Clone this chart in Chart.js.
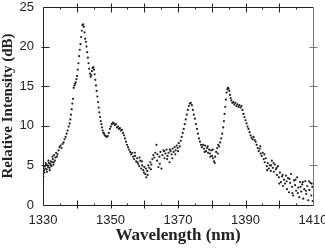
<!DOCTYPE html>
<html>
<head>
<meta charset="utf-8">
<script src="https://cdn.jsdelivr.net/npm/chart.js@4/dist/chart.umd.min.js"></script>
<style>
  html, body { margin: 0; padding: 0; background: #fff; }
  #wrap { width: 325px; height: 250px; position: relative; }
</style>
</head>
<body>
<div id="wrap"><canvas id="chart"></canvas></div>
<script>
// values
const wavelengthNm = [
  1330.1, 1330.3, 1330.5, 1330.7, 1330.9, 1331.1, 1331.3, 1331.5, 1331.7, 1331.9,
  1332.1, 1332.3, 1332.5, 1332.7, 1332.9, 1333.1, 1333.3, 1333.5, 1333.7, 1333.9,
  1334.1, 1334.3, 1334.6, 1334.9, 1335.2, 1335.5, 1335.8, 1336.1, 1336.4, 1336.7,
  1337.0, 1337.3, 1337.6, 1337.9, 1338.1, 1338.3, 1338.5, 1338.7, 1338.9, 1339.1,
  1339.3, 1339.5, 1339.7, 1339.9, 1340.1, 1340.3, 1340.5, 1340.7, 1340.9, 1341.1,
  1341.3, 1341.5, 1341.7, 1341.9, 1342.1, 1342.3, 1342.5, 1342.7, 1342.9, 1343.1,
  1343.3, 1343.5, 1343.7, 1343.9, 1344.1, 1344.3, 1344.5, 1344.7, 1344.9, 1345.1,
  1345.3, 1345.5, 1345.7, 1345.9, 1346.1, 1346.3, 1346.5, 1346.7, 1346.9, 1347.1,
  1347.3, 1347.5, 1347.7, 1347.9, 1348.1, 1348.3, 1348.6, 1348.9, 1349.2, 1349.5,
  1349.8, 1350.1, 1350.4, 1350.7, 1351.0, 1351.3, 1351.6, 1351.9, 1352.2, 1352.5,
  1352.8, 1353.1, 1353.4, 1353.7, 1354.0, 1354.3, 1354.6, 1354.9, 1355.2, 1355.5,
  1355.8, 1356.1, 1356.4, 1356.7, 1357.0, 1357.3, 1357.6, 1357.9, 1358.2, 1358.5,
  1358.8, 1359.1, 1359.4, 1359.7, 1360.0, 1360.3, 1360.6, 1360.9, 1361.2, 1361.5,
  1361.8, 1362.1, 1362.4, 1362.7, 1363.0, 1363.3, 1363.6, 1363.9, 1364.2, 1364.5,
  1364.8, 1365.1, 1365.4, 1365.7, 1366.0, 1366.3, 1366.6, 1366.9, 1367.2, 1367.5,
  1367.8, 1368.1, 1368.4, 1368.7, 1369.0, 1369.3, 1369.6, 1369.9, 1370.2, 1370.5,
  1370.8, 1371.1, 1371.4, 1371.7, 1372.0, 1372.3, 1372.6, 1372.9, 1373.2, 1373.5,
  1373.8, 1374.1, 1374.4, 1374.7, 1375.0, 1375.3, 1375.6, 1375.9, 1376.2, 1376.5,
  1376.8, 1377.1, 1377.4, 1377.7, 1378.0, 1378.3, 1378.6, 1378.9, 1379.2, 1379.5,
  1379.8, 1380.1, 1380.4, 1380.7, 1381.0, 1381.3, 1381.6, 1381.9, 1382.2, 1382.5,
  1382.8, 1383.1, 1383.4, 1383.6, 1383.8, 1384.0, 1384.2, 1384.4, 1384.6, 1384.8,
  1385.0, 1385.2, 1385.4, 1385.6, 1385.8, 1386.1, 1386.4, 1386.7, 1387.0, 1387.3,
  1387.6, 1387.9, 1388.2, 1388.5, 1388.8, 1389.1, 1389.4, 1389.7, 1390.0, 1390.3,
  1390.6, 1390.9, 1391.2, 1391.5, 1391.8, 1392.1, 1392.4, 1392.7, 1393.0, 1393.3,
  1393.6, 1393.9, 1394.2, 1394.5, 1394.8, 1395.1, 1395.4, 1395.7, 1396.0, 1396.3,
  1396.6, 1396.9, 1397.2, 1397.5, 1397.8, 1398.1, 1398.4, 1398.7, 1399.0, 1399.3,
  1399.6, 1399.9, 1400.2, 1400.5, 1400.8, 1401.1, 1401.4, 1401.7, 1402.0, 1402.3,
  1402.6, 1402.9, 1403.2, 1403.5, 1403.8, 1404.1, 1404.4, 1404.7, 1405.0, 1405.3,
  1405.6, 1405.9, 1406.2, 1406.5, 1406.8, 1407.1, 1407.4, 1407.7, 1408.0, 1408.3,
  1408.6, 1408.9, 1409.2, 1409.5, 1409.8
];
const intensityDb = [
  3.6, 4.4, 4.9, 4.6, 5.1, 4.5, 5.0, 4.8, 5.3, 4.7,
  5.2, 5.5, 4.9, 5.4, 5.8, 5.1, 6.3, 5.6, 6.0, 6.6,
  6.1, 6.4, 6.9, 7.3, 7.5, 7.2, 7.7, 7.9, 8.3, 8.6,
  9.0, 9.4, 9.9, 10.3, 10.8, 11.4, 12.1, 12.8, 13.4, 14.8,
  15.1, 15.3, 15.5, 15.9, 16.3, 17.1, 17.9, 18.8, 19.6, 20.3,
  21.2, 22.0, 22.7, 22.8, 22.5, 21.8, 21.0, 20.6, 20.0, 19.3,
  18.6, 17.9, 17.2, 16.6, 16.2, 16.4, 16.9, 17.3, 17.4, 17.1,
  16.5, 15.8, 15.1, 14.4, 13.7, 13.0, 12.3, 11.7, 11.1, 10.6,
  10.2, 9.8, 9.4, 9.1, 9.0, 8.8, 8.7, 8.6, 8.7, 9.1,
  9.6, 9.9, 10.2, 10.4, 10.3, 10.1, 10.2, 9.8, 9.9, 9.6,
  9.7, 9.4, 9.5, 9.1, 8.8, 8.4, 8.0, 7.6, 7.3, 7.0,
  6.7, 6.4, 6.6, 6.1, 5.8, 6.2, 5.5, 5.9, 5.2, 4.9,
  5.6, 4.6, 5.0, 4.4, 4.8, 3.9, 3.5, 4.3, 5.0, 4.7,
  5.4, 5.1, 5.8, 6.3, 6.0, 6.6, 7.6, 6.4, 4.8, 6.1,
  6.7, 4.6, 6.3, 6.9, 5.9, 6.5, 7.0, 6.2, 6.6, 5.4,
  6.8, 6.4, 7.1, 6.7, 7.3, 6.9, 7.5, 7.2, 7.8, 7.4,
  8.1, 8.6, 9.1, 9.6, 10.2, 10.8, 11.4, 12.0, 12.5, 12.8,
  12.9, 12.6, 12.0, 11.4, 10.9, 10.2, 9.6, 9.0, 8.4, 8.0,
  7.6, 7.3, 7.6, 7.1, 7.5, 6.8, 7.2, 6.6, 7.0, 6.5,
  6.9, 6.2, 5.9, 5.5, 6.1, 6.7, 7.2, 7.6, 7.4, 7.9,
  8.4, 9.0, 9.8, 10.6, 11.5, 12.4, 13.3, 14.2, 14.6, 14.8,
  14.7, 14.4, 13.9, 13.5, 13.2, 12.9, 13.0, 12.7, 12.9, 12.5,
  12.7, 12.4, 12.6, 12.3, 12.5, 12.0, 11.5, 11.1, 10.7, 10.3,
  9.9, 9.6, 9.2, 8.8, 8.5, 8.3, 8.6, 8.2, 8.0, 7.6,
  7.2, 6.8, 7.1, 6.5, 6.2, 6.6, 5.8, 5.4, 5.9, 4.9,
  5.3, 4.6, 5.0, 4.3, 5.6, 4.7, 4.2, 5.1, 4.5, 3.8,
  4.9, 3.5, 4.1, 2.9, 3.6, 2.4, 3.2, 2.7, 3.7, 2.0,
  3.4, 1.6, 2.8, 3.9, 2.3, 1.2, 3.1, 2.5, 1.8, 3.5,
  2.2, 1.0, 2.9, 1.7, 2.6, 0.8, 2.0, 3.0, 1.4, 2.4,
  0.6, 1.9, 2.8, 1.2, 2.3
];
// second pass of scattered readings in the noisy stretches
const extraNm = [
  1330.4, 1330.8, 1331.2, 1331.6, 1332.0, 1332.4, 1332.8, 1333.2,
  1357.2, 1358.0, 1358.6, 1359.3, 1359.9, 1360.5, 1361.0, 1362.0, 1363.8, 1364.6,
  1365.9, 1366.8, 1367.6, 1368.3, 1369.2, 1370.0,
  1377.9, 1378.8, 1379.6, 1380.3, 1380.9, 1381.8,
  1394.4, 1395.6, 1396.4, 1397.6, 1398.3, 1399.2, 1400.0, 1401.0, 1402.2, 1403.0,
  1403.9, 1404.8, 1405.5, 1406.3, 1407.0, 1407.9, 1408.8, 1409.6, 1409.9
];
const extraDb = [
  4.1, 5.3, 4.2, 5.6, 4.4, 5.0, 6.1, 5.4,
  6.6, 5.4, 6.0, 5.5, 4.1, 4.6, 3.8, 4.5, 5.6, 5.2,
  6.8, 5.8, 7.0, 5.9, 6.4, 6.8,
  6.7, 7.4, 6.1, 7.0, 5.3, 6.5,
  7.4, 6.4, 4.4, 5.0, 5.3, 4.7, 2.7, 3.8, 3.0, 3.3,
  1.5, 3.2, 1.5, 2.3, 2.9, 1.8, 3.0, 2.7, 0.5
];

const xLabels = [1330, 1350, 1370, 1390, 1410];
const xMajorTicks = [1340, 1350, 1360, 1370, 1380, 1390, 1400];
const xMinorTicks = [1335, 1345, 1355, 1365, 1375, 1385, 1395, 1405];
const yTicks = [5, 10, 15, 20];

const points = wavelengthNm.map((w, i) => ({ x: w, y: intensityDb[i] }))
  .concat(extraNm.map((w, i) => ({ x: w, y: extraDb[i] })));

// box frame with crossing tick marks, like the original plot
const framePlugin = {
  id: 'frame',
  afterDraw(chart) {
    const { ctx, chartArea: a, scales } = chart;
    const sx = scales.x;
    const sy = scales.y;
    const px = (v) => Math.round(sx.getPixelForValue(v)) + 0.5;
    const py = (v) => Math.round(sy.getPixelForValue(v)) + 0.5;
    const L = Math.round(a.left) + 0.5;
    const R = Math.round(a.right) + 0.5;
    const T = Math.round(a.top) + 0.5;
    const B = Math.round(a.bottom) + 0.5;
    ctx.save();
    ctx.lineWidth = 1;

    ctx.strokeStyle = '#222';
    ctx.beginPath();
    ctx.moveTo(L, T); ctx.lineTo(R, T);
    ctx.moveTo(L, B); ctx.lineTo(R, B);
    ctx.moveTo(L, T); ctx.lineTo(L, B);
    xMajorTicks.forEach((v) => {
      ctx.moveTo(px(v), B - 5); ctx.lineTo(px(v), B + 3);
      ctx.moveTo(px(v), T - 4); ctx.lineTo(px(v), T + 5);
    });
    xMinorTicks.forEach((v) => {
      ctx.moveTo(px(v), B - 2); ctx.lineTo(px(v), B);
      ctx.moveTo(px(v), T); ctx.lineTo(px(v), T + 2);
    });
    yTicks.forEach((v) => {
      ctx.moveTo(L - 2, py(v)); ctx.lineTo(L + 6, py(v));
    });
    ctx.stroke();

    ctx.strokeStyle = '#777';
    ctx.beginPath();
    ctx.moveTo(R, T); ctx.lineTo(R, B);
    yTicks.forEach((v) => {
      ctx.moveTo(R - 4, py(v)); ctx.lineTo(R + 4, py(v));
    });
    ctx.stroke();
    ctx.restore();
  }
};

new Chart(document.getElementById('chart'), {
  type: 'scatter',
  data: {
    datasets: [{
      data: points,
      backgroundColor: '#222',
      borderWidth: 0,
      pointRadius: 1.1,
      pointHoverRadius: 1.1
    }]
  },
  options: {
    responsive: true,
    maintainAspectRatio: false,
    animation: false,
    layout: { padding: { top: 7, right: 12, left: 0, bottom: 0 } },
    plugins: {
      legend: { display: false },
      tooltip: { enabled: false }
    },
    scales: {
      x: {
        type: 'linear',
        min: 1330,
        max: 1410,
        grid: { display: false, drawTicks: false },
        border: { display: false },
        ticks: {
          stepSize: 20,
          autoSkip: false,
          maxRotation: 0,
          padding: 8,
          color: '#222',
          font: { family: '"Liberation Sans", Arial, sans-serif', size: 13 },
          callback: (v) => (xLabels.includes(v) ? String(v) : '')
        },
        title: {
          display: true,
          text: 'Wavelength (nm)',
          color: '#222',
          padding: { top: 0, bottom: 5 },
          font: { family: '"Liberation Serif", "Times New Roman", serif', size: 17, weight: 'bold', lineHeight: 1.1 }
        },
        afterFit(scale) {
          scale.height = 45;
          scale.paddingLeft = 0;
          scale.paddingRight = 0;
        }
      },
      y: {
        min: 0,
        max: 25,
        grid: { display: false, drawTicks: false },
        border: { display: false },
        ticks: {
          stepSize: 5,
          padding: 9,
          color: '#222',
          font: { family: '"Liberation Sans", Arial, sans-serif', size: 13 }
        },
        title: {
          display: true,
          text: 'Relative Intensity (dB)',
          color: '#222',
          align: 'center',
          padding: { top: 0, bottom: 0 },
          font: { family: '"Liberation Serif", "Times New Roman", serif', size: 15, weight: 'bold', lineHeight: 1.1 }
        },
        afterFit(scale) {
          scale.width = 43;
          scale.paddingTop = 0;
          scale.paddingBottom = 0;
        }
      }
    }
  },
  plugins: [framePlugin]
});
</script>
</body>
</html>
